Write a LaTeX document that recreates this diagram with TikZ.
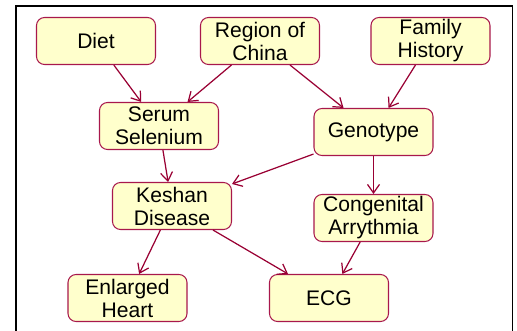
\documentclass[tikz,border=0pt]{standalone}
\usepackage{fontspec}
\setmainfont{Liberation Sans}
\usepackage{tikz}
\usepackage{xcolor}
\usetikzlibrary{
    arrows.meta,
    shapes,
    calc,
    positioning
}
\definecolor{nodefill}{HTML}{FFFFCC}
\definecolor{nodeline}{HTML}{A8184C}
\definecolor{arcline}{HTML}{990033}

\begin{document}
\begin{tikzpicture}[
    var/.style={draw=nodeline, fill=nodefill, line width=0.6pt, rounded corners=0.16cm,
        minimum width=2.38cm, minimum height=0.94cm, inner sep=0pt, align=center,
        font=\fontsize{12}{13.1}\selectfont},
    arc/.style={draw=arcline, line width=0.7pt, -{Straight Barb[length=0.17cm,width=0.24cm]}}
]
                        \useasboundingbox (0, 0) rectangle (10.34, -6.62);
                        \draw[line width=1.1pt] (0.32, -6.62) -- (0.32, -0.12) -- (10.25, -0.12) -- (10.25, -6.62);

                        \node[var] (diet) at (1.92, -0.82) {Diet};
                        \node[var] (region) at (5.20, -0.82) {Region of\\China};
                        \node[var] (family) at (8.61, -0.82) {Family\\History};
                        \node[var] (serum) at (3.18, -2.52) {Serum\\Selenium};
                        \node[var] (geno) at (7.47, -2.64) {Genotype};
                        \node[var] (keshan) at (3.44, -4.12) {Keshan\\Disease};
                        \node[var] (congen) at (7.47, -4.36) {Congenital\\Arrythmia};
                        \node[var] (heart) at (2.55, -5.96) {Enlarged\\Heart};
                        \node[var] (ecg) at (6.58, -5.96) {ECG};

                        \draw
                        (diet) edge[arc] (serum)
                        (region) edge[arc] (serum)
                        (region) edge[arc] (geno)
                        (family) edge[arc] (geno)
                        (serum) edge[arc] (keshan)
                        (geno) edge[arc] (keshan)
                        (geno) edge[arc] (congen)
                        (keshan) edge[arc] (heart)
                        (keshan) edge[arc] (ecg)
                        (congen) edge[arc] (ecg);
                    \end{tikzpicture}
\end{document}
